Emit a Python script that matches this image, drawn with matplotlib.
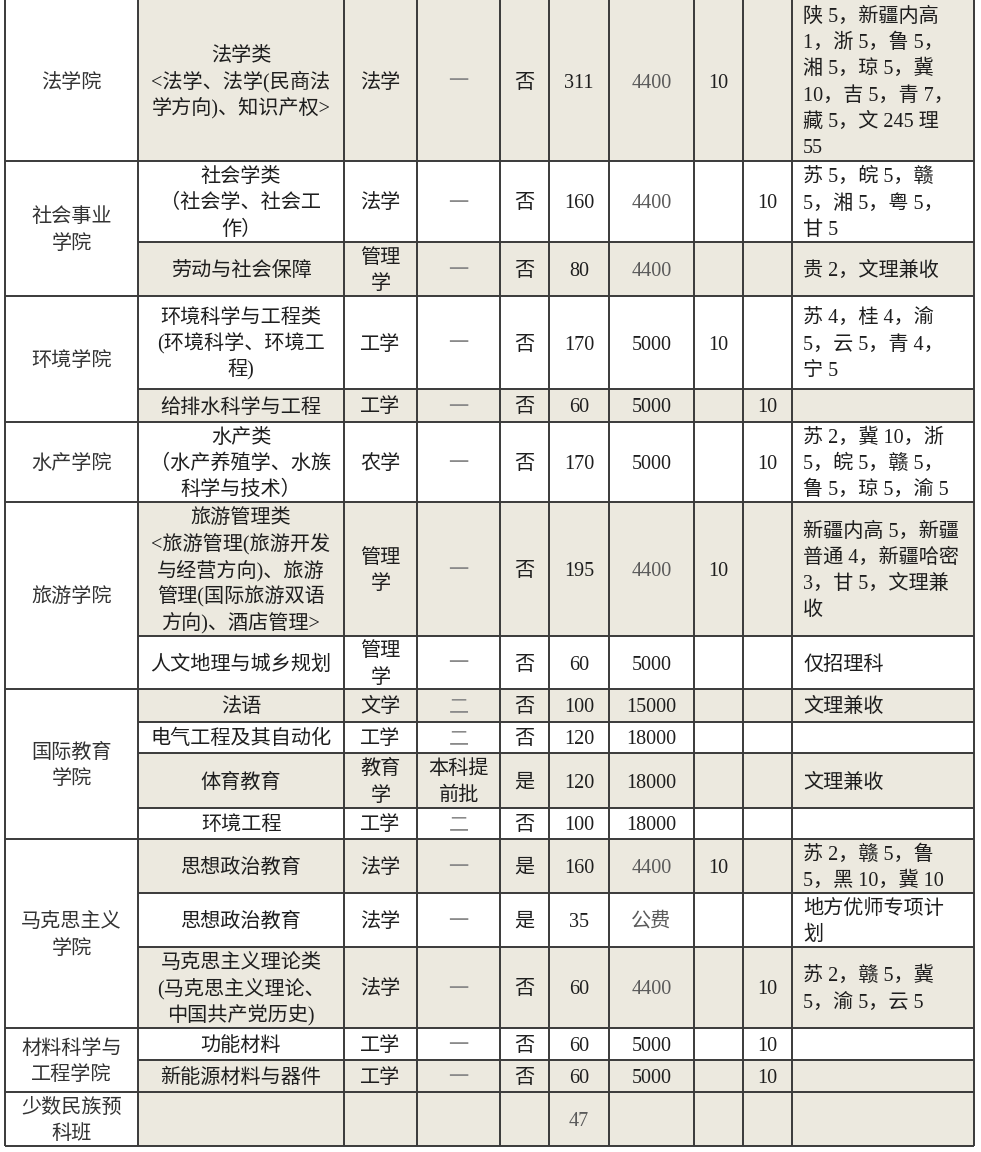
import matplotlib
matplotlib.use("Agg")
import matplotlib.pyplot as plt
from matplotlib.patches import Rectangle

plt.rcParams['font.family'] = ['Liberation Serif', 'Noto Sans CJK SC', 'DejaVu Sans']

# ── 表格内容 ────────────────────────────────────────────────
colleges = ['法学院', '社会事业\n学院', '环境学院', '水产学院', '旅游学院',
            '国际教育\n学院', '马克思主义\n学院', '材料科学与\n工程学院', '少数民族预\n科班']
college_rows = [1, 2, 2, 1, 2, 4, 3, 2, 1]

majors = [
    '法学类\n<法学、法学(民商法\n学方向)、知识产权>',
    '社会学类\n（社会学、社会工\n作）',
    '劳动与社会保障',
    '环境科学与工程类\n(环境科学、环境工\n程)',
    '给排水科学与工程',
    '水产类\n（水产养殖学、水族\n科学与技术）',
    '旅游管理类\n<旅游管理(旅游开发\n与经营方向)、旅游\n管理(国际旅游双语\n方向)、酒店管理>',
    '人文地理与城乡规划',
    '法语',
    '电气工程及其自动化',
    '体育教育',
    '环境工程',
    '思想政治教育',
    '思想政治教育',
    '马克思主义理论类\n(马克思主义理论、\n中国共产党历史)',
    '功能材料',
    '新能源材料与器件',
    '',
]
disciplines = ['法学', '法学', '管理\n学', '工学', '工学', '农学', '管理\n学', '管理\n学',
               '文学', '工学', '教育\n学', '工学', '法学', '法学', '法学', '工学', '工学', '']
batches = ['一', '一', '一', '一', '一', '一', '一', '一',
           '二', '二', '本科提\n前批', '二', '一', '一', '一', '一', '一', '']
flags = ['否', '否', '否', '否', '否', '否', '否', '否',
         '否', '否', '是', '否', '是', '是', '否', '否', '否', '']
plan = [311, 160, 80, 170, 60, 170, 195, 60, 100, 120, 120, 100, 160, 35, 60, 60, 60, 47]
fees = ['4400', '4400', '4400', '5000', '5000', '5000', '4400', '5000',
        '15000', '18000', '18000', '18000', '4400', '公费', '4400', '5000', '5000', '']
quota_a = ['10', '', '', '10', '', '', '10', '', '', '', '', '', '10', '', '', '', '', '']
quota_b = ['', '10', '', '', '10', '10', '', '', '', '', '', '', '', '', '10', '10', '10', '']
notes = [
    '陕 5，新疆内高\n1，浙 5，鲁 5，\n湘 5，琼 5，冀\n10，吉 5，青 7，\n藏 5，文 245 理\n55',
    '苏 5，皖 5，赣\n5，湘 5，粤 5，\n甘 5',
    '贵 2，文理兼收',
    '苏 4，桂 4，渝\n5，云 5，青 4，\n宁 5',
    '',
    '苏 2，冀 10，浙\n5，皖 5，赣 5，\n鲁 5，琼 5，渝 5',
    '新疆内高 5，新疆\n普通 4，新疆哈密\n3，甘 5，文理兼\n收',
    '仅招理科',
    '文理兼收',
    '',
    '文理兼收',
    '',
    '苏 2，赣 5，鲁\n5，黑 10，冀 10',
    '地方优师专项计\n划',
    '苏 2，赣 5，冀\n5，渝 5，云 5',
    '',
    '',
    '',
]

# ── 版式 ────────────────────────────────────────────────────
W, H = 981, 1152
col_edges = [5, 138, 344, 417, 500, 549, 609, 694, 743, 792, 974]
row_edges = [0, 161, 242, 296, 389, 422, 502, 636, 689, 722, 753, 808,
             839, 893, 947, 1028, 1060, 1092, 1146]
shaded_rows = [0, 2, 4, 6, 8, 10, 12, 14, 16, 17]

SHADE = '#ECE9DF'
LINE = '#3a3a3a'
TEXT = '#1e1e1e'
MUTED = '#5a5a5a'
FS = 14.5
LINE_H = 26.3
BASE_OFF = 7.0          # 行中心 -> 基线
NOTE_PAD = 11

fig = plt.figure(figsize=(W / 100, H / 100), dpi=100)
ax = fig.add_axes([0, 0, 1, 1])
ax.set_xlim(0, W)
ax.set_ylim(H, 0)
ax.axis('off')


def put(text, x, y_mid, ha='center', color=TEXT):
    if not text:
        return
    lines = text.split('\n')
    n = len(lines)
    for i, ln in enumerate(lines):
        y = y_mid + (i - (n - 1) / 2) * LINE_H + BASE_OFF
        ax.text(x, y, ln, ha=ha, va='baseline', fontsize=FS, color=color)


# 底色
for r in shaded_rows:
    ax.add_patch(Rectangle((col_edges[1], row_edges[r]),
                           col_edges[-1] - col_edges[1],
                           row_edges[r + 1] - row_edges[r],
                           facecolor=SHADE, edgecolor='none', zorder=0))

# 学院（合并单元格）
college_start = []
r = 0
for name, span in zip(colleges, college_rows):
    college_start.append(r)
    y0, y1 = row_edges[r], row_edges[r + span]
    put(name, (col_edges[0] + col_edges[1]) / 2, (y0 + y1) / 2, color='#333333')
    r += span

# 横线
for i in range(1, len(row_edges)):
    x0 = col_edges[0] if (i in college_start or i == len(row_edges) - 1) else col_edges[1]
    ax.hlines(row_edges[i], x0, col_edges[-1], color=LINE, lw=1.4, zorder=3)

# 竖线
ax.vlines(col_edges, row_edges[0], row_edges[-1], color=LINE, lw=1.4, zorder=3)

# 各列文字
cx = [(col_edges[i] + col_edges[i + 1]) / 2 for i in range(len(col_edges) - 1)]
for i in range(len(majors)):
    ym = (row_edges[i] + row_edges[i + 1]) / 2
    put(majors[i], cx[1], ym)
    put(disciplines[i], cx[2], ym)
    put(batches[i], cx[3], ym, color='#8a8a8a' if batches[i] in ('一', '二') else TEXT)
    put(flags[i], cx[4], ym)
    put(str(plan[i]), cx[5], ym, color=MUTED if i == len(plan) - 1 else TEXT)
    put(fees[i], cx[6], ym, color=MUTED if fees[i] in ('4400', '公费') else TEXT)
    put(quota_a[i], cx[7], ym)
    put(quota_b[i], cx[8], ym)
    put(notes[i], col_edges[9] + NOTE_PAD, ym, ha='left')

fig.savefig('out.png', dpi=100)
